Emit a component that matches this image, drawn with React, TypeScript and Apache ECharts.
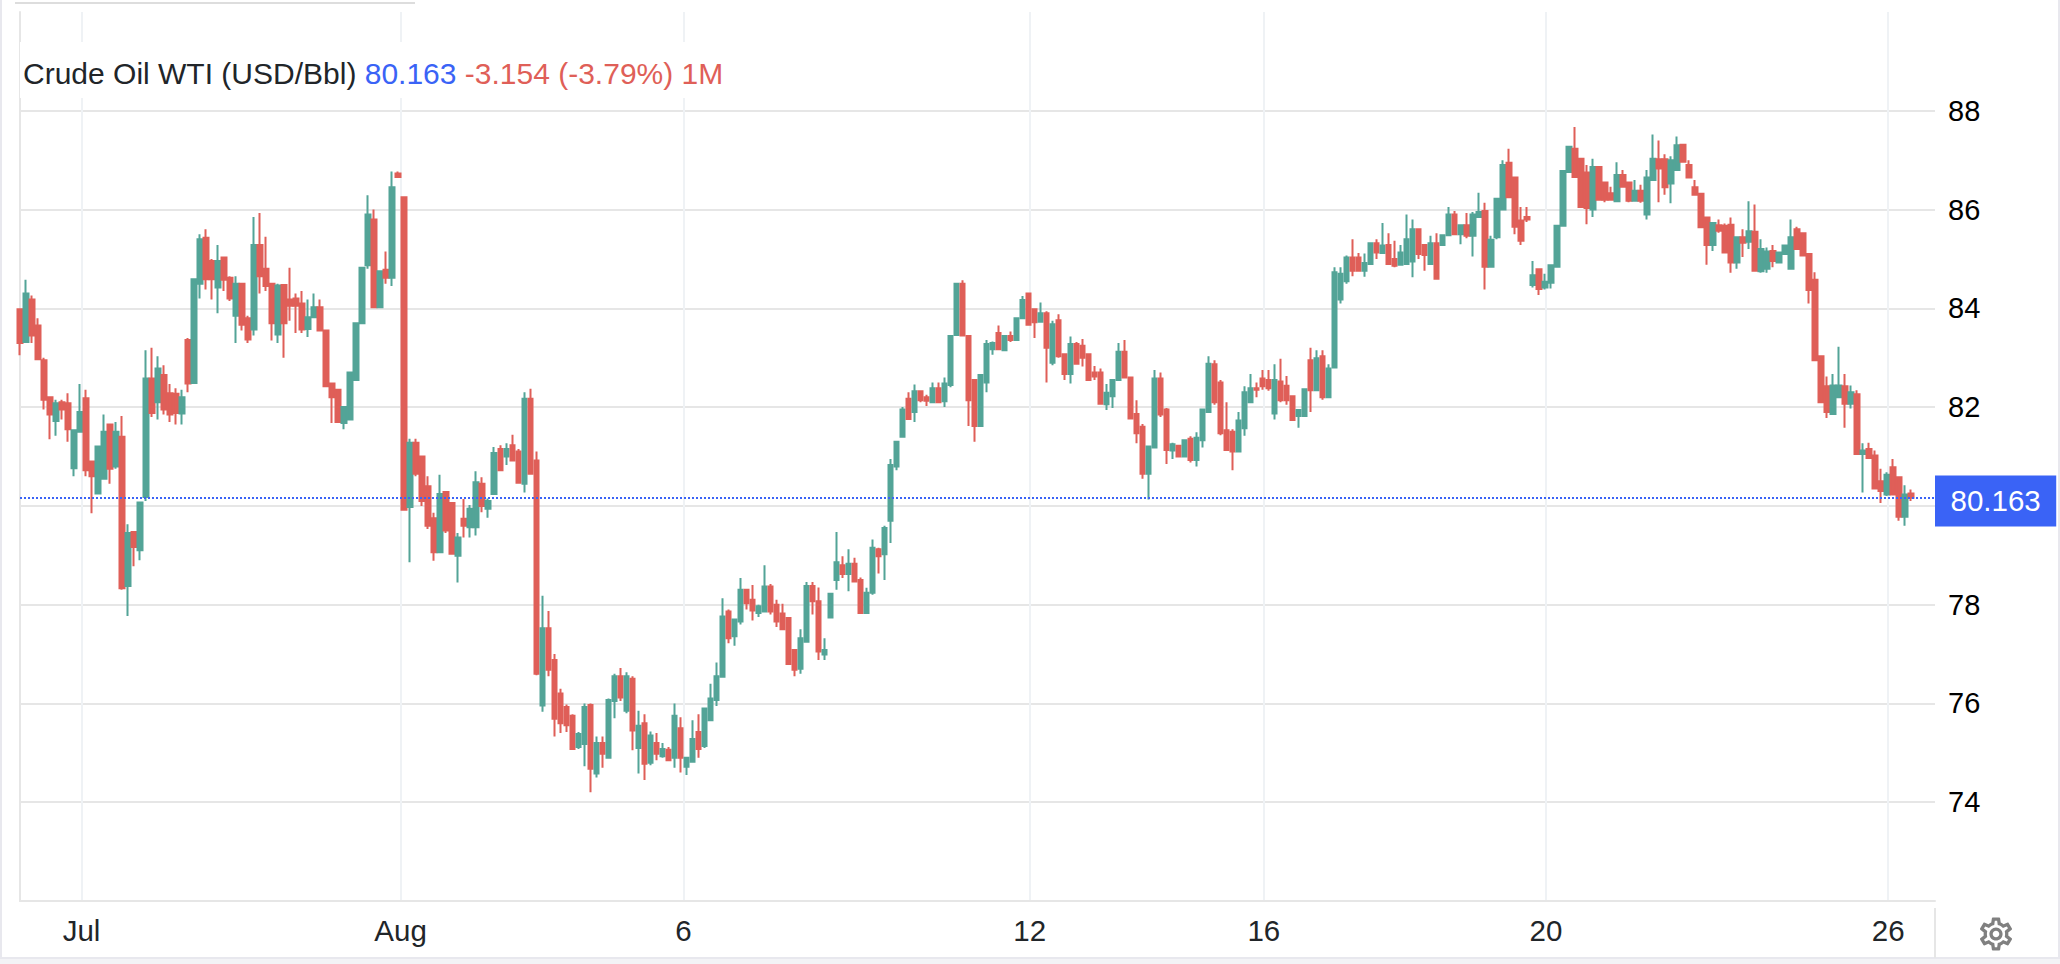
import React, { useEffect, useRef } from "react";
import * as echarts from "echarts";

// [open, close, low, high]
const julyLateBars: number[][] = [
  [83.98,83.3,83.05,84.0],[83.32,84.3,83.3,84.58],[84.18,83.45,83.3,84.26],[83.65,82.97,82.95,83.8],[82.95,82.15,81.95,83.0],
  [82.2,81.85,81.35,82.2],[81.72,82.08,81.42,82.15],[82.1,81.95,81.75,82.15],[82.08,81.55,81.3,82.28],[80.76,81.53,80.6,81.55],
  [81.5,81.9,81.5,82.47],[82.18,80.72,80.6,82.35],[80.9,80.6,79.85,80.9],[80.25,81.2,80.25,81.2],[80.55,81.5,80.55,81.85],
  [81.65,80.75,80.45,81.65],[80.8,81.5,80.75,81.7],[81.4,78.33,78.3,81.82],[78.38,79.45,77.77,79.63],[79.47,79.17,78.78,79.47],
  [79.1,80.07,78.9,80.07],[80.18,82.58,80.1,83.15],[82.58,81.88,81.8,83.2],[82.1,82.78,81.75,83.03],[82.65,81.95,81.85,82.85],
  [82.28,81.85,81.7,82.47],[82.27,81.88,81.65,82.38],[81.87,82.2,81.65,82.35],[83.36,82.48,82.3,83.4],[82.49,84.59,82.49,84.59],
  [84.5,85.4,84.2,85.5],[85.43,84.59,84.38,85.6],[84.96,84.59,84.18,85.0],[84.42,84.96,83.9,85.28],[85.03,84.58,84.35,85.05],
  [84.62,84.2,84.15,84.65],[83.85,84.5,83.3,84.65],[84.5,83.67,83.55,84.5],[83.8,83.37,83.3,83.85],[83.57,85.28,83.45,85.85],
  [85.28,84.65,84.3,85.93],[84.8,84.45,84.35,85.45],[84.5,83.7,83.35,84.5],[83.47,84.46,83.3,84.5],[84.47,83.7,83.0,84.47],
  [84.18,84.05,83.75,84.82],[84.2,84.05,83.5,84.3],[84.1,83.57,83.5,84.35],[83.58,83.82,83.42,84.18],[83.82,84.02,83.8,84.3],
  [84.02,83.55,83.55,84.18],[83.55,82.42,82.4,83.55],[82.48,82.2,81.68,82.5],[82.35,81.7,81.7,82.35],[81.68,82.0,81.55,82.0],
  [81.75,82.7,81.75,82.7],[82.55,83.7,82.55,83.72],[83.7,84.82,83.7,84.82],[84.87,85.9,84.8,86.29],[85.8,84.02,84.02,86.0],
  [84.02,84.75,84.02,84.75],[84.78,84.62,84.5,85.15],[84.62,86.45,84.45,86.77],[86.73,86.66,86.66,86.77],[86.25,79.92,79.92,86.25],
];
const augustDipBars: number[][] = [
  [79.98,81.28,78.86,81.36],[81.28,80.65,80.6,81.36],[81.0,80.1,80.0,81.0],[80.4,79.6,79.53,80.6],[79.75,79.06,78.89,79.86],
  [79.06,80.24,79.06,80.63],[80.28,79.5,79.45,80.3],[80.06,79.03,79.03,80.06],[78.99,79.36,78.45,79.45],[79.74,79.6,79.36,80.14],
  [79.57,79.94,79.36,80.02],[79.57,80.48,79.4,80.7],[80.45,80.0,79.87,80.58],[79.94,80.1,79.76,80.15],[80.24,81.07,80.24,81.19],
  [81.15,80.72,80.71,81.23],[81.0,81.15,80.83,81.27],[81.23,80.92,80.9,81.44],[81.1,80.47,80.47,81.15],[80.45,82.17,80.27,82.3],
  [82.17,80.65,80.65,82.37],[80.92,76.6,76.57,81.1],[75.96,77.52,75.83,78.18],[77.52,76.68,76.55,77.87],[76.88,75.69,75.33,77.0],
  [76.2,75.6,75.4,76.3],[75.93,75.56,75.42,75.98],[75.75,75.08,75.08,75.78],[75.12,75.38,75.08,75.42],[75.18,75.93,74.73,76.0],
  [75.97,74.68,74.2,76.0],[74.58,75.2,74.5,75.33],[75.2,74.98,74.7,75.33],[74.9,76.07,74.88,76.1],[76.05,76.55,75.7,76.6],
  [76.55,76.12,76.05,76.72],[75.85,76.55,75.8,76.63],[76.5,75.45,75.05,76.55],[75.1,75.55,74.58,75.85],[75.6,74.78,74.45,75.78],
  [74.8,75.35,74.75,75.43],[75.2,74.98,74.85,75.4],[74.93,75.08,74.9,75.2],[75.06,74.85,74.85,75.12],[74.9,75.75,74.7,76.0],
  [75.5,74.9,74.6,75.72],[74.72,74.9,74.55,74.92],[74.82,75.28,74.8,75.66],[75.42,75.08,74.9,75.78],[75.14,75.9,75.1,75.9],
  [75.66,76.1,75.66,76.4],[76.07,76.55,75.95,76.83],[76.54,77.76,76.54,78.13],[77.86,77.32,77.22,77.9],[77.36,77.7,77.17,77.7],
];
const augustRecoveryBars: number[][] = [
  [77.66,78.3,77.6,78.54],[78.3,78.03,77.9,78.3],[78.1,77.88,77.68,78.4],[77.83,77.97,77.75,78.0],[77.86,78.37,77.86,78.8],
  [78.37,77.86,77.8,78.42],[78.0,77.66,77.55,78.1],[77.82,77.5,77.5,78.02],[77.73,76.8,76.8,77.73],[77.08,76.68,76.55,77.1],
  [76.7,77.32,76.6,77.5],[77.25,78.38,77.25,78.46],[78.38,78.07,77.8,78.46],[78.07,77.05,76.88,78.35],[76.99,77.08,76.88,77.32],
  [77.74,78.22,77.74,78.22],[78.5,78.86,78.3,79.47],[78.8,78.62,78.54,78.98],[78.62,78.83,78.27,79.12],[78.83,78.47,78.45,78.95],
  [78.5,77.83,77.83,78.55],[77.83,78.24,77.83,78.34],[78.24,79.15,78.2,79.32],[79.12,78.98,78.63,79.15],[79.02,79.55,78.5,79.6],
  [79.7,80.83,79.25,80.95],[80.8,81.3,80.72,81.3],[81.4,81.95,81.4,82.0],[82.17,81.76,81.76,82.3],[81.9,82.32,81.7,82.46],
  [82.32,82.14,82.1,82.32],[82.2,82.13,82.02,82.25],[82.1,82.38,82.1,82.5],[82.38,82.1,82.08,82.5],[82.12,82.48,82.0,82.6],
  [82.45,83.44,82.4,83.44],[83.46,84.5,83.45,84.5],[84.5,83.45,83.45,84.57],[83.44,82.14,81.62,83.44],[82.55,81.62,81.3,82.55],
  [81.62,82.65,81.62,82.65],[82.5,83.28,82.3,83.36],[83.17,83.3,83.06,83.33],[83.5,83.17,83.17,83.65],[83.15,83.44,83.13,83.44],
  [83.44,83.36,83.32,83.53],[83.36,83.8,83.36,83.8],[83.8,84.17,83.8,84.25],[84.3,83.67,83.67,84.32],[83.98,83.72,83.4,84.0],
];
const midAugustBars: number[][] = [
  [83.73,83.9,83.72,84.12],[83.9,83.2,82.5,83.94],[82.9,83.68,82.85,83.75],[83.76,83.03,83.0,83.88],[83.07,82.67,82.55,83.07],
  [82.67,83.28,82.48,83.43],[83.28,82.88,82.88,83.32],[83.24,83.0,82.82,83.38],[83.07,82.55,82.55,83.07],[82.7,82.62,82.55,82.83],
  [82.7,82.07,82.07,82.78],[82.06,82.29,81.94,82.47],[82.22,82.55,81.98,82.55],[82.55,83.12,82.55,83.3],[83.12,82.6,82.6,83.36],
  [82.6,81.77,81.75,82.6],[81.86,81.47,81.27,82.14],[81.6,80.65,80.55,81.66],[80.65,81.2,80.13,81.2],[81.18,82.58,81.18,82.75],
  [82.58,81.85,81.8,82.7],[81.95,81.13,80.85,81.98],[81.12,81.25,80.95,81.28],[81.22,81.0,80.98,81.22],[81.0,81.33,81.0,81.33],
  [81.36,80.93,80.88,81.41],[80.93,81.38,80.8,81.49],[81.33,81.95,81.18,81.95],[81.9,82.88,81.9,83.03],[82.87,82.1,82.05,82.95],
  [82.5,81.47,81.43,82.55],[81.53,81.13,81.13,82.1],[81.5,81.1,80.72,81.55],[81.1,81.73,81.1,81.9],[81.57,82.3,81.42,82.42],
  [82.1,82.38,82.1,82.67],[82.38,82.35,82.2,82.5],[82.58,82.42,82.35,82.75],[82.55,82.38,82.33,82.75],[81.87,82.55,81.75,82.87],
  [82.52,82.14,82.1,82.98],[82.43,82.14,82.05,82.63],[82.22,81.74,81.74,82.22],[81.82,81.94,81.58,81.94],[81.82,82.36,81.82,82.36],
  [82.95,82.34,81.9,83.2],[82.34,82.99,82.34,83.15],[83.03,82.2,82.15,83.15],[82.2,82.78,82.2,82.87],[82.8,84.73,82.8,84.83],
];
const plateauBars: number[][] = [
  [84.18,84.7,84.1,84.83],[84.55,85.03,84.5,85.07],[85.03,84.76,84.65,85.4],[85.03,84.76,84.76,85.12],[84.76,84.92,84.64,85.11],
  [84.9,85.32,84.9,85.32],[85.32,85.13,85.0,85.4],[85.12,85.27,85.1,85.73],[85.28,84.9,84.88,85.52],[85.0,84.86,84.83,85.37],
  [84.88,85.13,84.88,85.28],[84.9,85.4,84.88,85.9],[84.95,85.6,84.63,85.8],[85.6,85.1,85.0,85.6],[85.28,85.08,84.76,85.3],
  [84.9,85.32,84.9,85.47],[85.32,84.6,84.6,85.52],[85.28,85.48,85.28,85.5],[85.48,85.9,85.48,86.05],[85.9,85.5,85.5,85.97],
  [85.5,85.68,85.3,85.7],[85.68,85.47,85.42,85.93],[85.47,85.9,85.05,85.95],[85.85,85.95,85.85,86.34],[85.97,84.84,84.38,86.14],
  [84.84,85.39,84.84,85.47],[85.44,86.22,85.4,86.22],[86.0,86.9,86.0,87.0],[86.95,86.25,86.25,87.23],[86.65,85.65,85.5,86.65],
  [85.78,85.37,85.28,86.05],[85.85,85.8,85.75,86.05],[84.47,84.67,84.42,84.96],[84.79,84.39,84.27,84.79],[84.42,84.54,84.38,84.7],
  [84.52,84.87,84.4,84.87],[84.84,85.67,84.84,85.68],[85.67,86.78,85.67,86.78],[86.76,87.27,86.76,87.27],[87.23,86.66,86.66,87.67],
  [87.03,86.05,86.05,87.05],[86.75,86.03,85.7,86.9],[86.0,86.86,85.85,87.03],[86.86,86.2,86.2,86.86],[86.55,86.2,86.15,86.55],
  [86.33,86.2,86.18,86.46],[86.17,86.7,86.17,86.96],[86.7,86.46,86.46,86.8],[86.55,86.18,86.15,86.55],[86.18,86.38,86.18,86.6],
  [86.38,86.18,86.14,86.5],[85.9,86.65,85.8,86.8],
];
const finalSlideBars: number[][] = [
  [86.6,87.03,86.6,87.52],[87.02,86.83,86.15,87.4],[87.02,86.45,86.3,87.12],[86.53,87.0,86.13,87.08],[86.8,87.3,86.8,87.48],
  [87.31,86.97,86.97,87.31],[86.9,86.65,86.65,87.0],[86.45,86.3,86.3,86.6],[86.32,85.64,85.64,86.34],[85.84,85.28,84.88,85.85],
  [85.28,85.73,85.16,85.75],[85.68,85.57,85.53,85.8],[85.67,85.13,85.13,85.72],[85.69,84.93,84.72,85.84],[84.93,85.44,84.8,85.44],
  [85.44,85.33,85.04,85.6],[85.35,85.56,85.2,86.17],[85.55,84.76,84.76,86.1],[84.75,85.2,84.72,85.4],[84.8,85.15,84.72,85.23],
  [85.16,84.96,84.83,85.28],[84.93,85.13,84.93,85.15],[85.1,85.27,85.1,85.28],[84.8,85.44,84.8,85.8],[85.6,85.2,85.2,85.65],
  [85.52,85.07,85.07,85.54],[85.1,84.37,84.1,85.12],[84.58,82.95,82.95,84.73],[83.03,82.1,82.1,83.03],[82.42,81.9,81.78,82.62],
  [81.86,82.44,81.86,82.67],[82.2,82.44,82.2,83.22],[82.42,82.07,81.58,82.67],[82.07,82.3,81.97,82.44],[82.26,81.05,81.05,82.34],
  [81.05,81.12,80.27,81.27],[81.15,80.97,80.95,81.28],[81.02,80.35,80.35,81.12],[80.5,80.3,80.06,80.75],[80.23,80.63,80.2,80.68],
  [80.78,80.23,80.23,80.95],[80.58,79.78,79.7,80.6],[79.78,80.23,79.6,80.42],[80.25,80.163,80.1,80.33],
];
const trailingEmptySlots = 4;

const dayTickLabels = ["Jul", "Aug", "6", "12", "16", "20", "26"];
const dayTickBars = [10.25, 63.4, 110.5, 168.2, 207.2, 254.2, 311.2];
const priceTicks = [72, 74, 76, 78, 80, 82, 84, 86, 88];
const priceLabels = [74, 76, 78, 82, 84, 86, 88];

const instrument = "Crude Oil WTI (USD/Bbl)";
const lastPrice = 80.163;
const lastPriceText = "80.163";
const changeText = "-3.154 (-3.79%) 1M";

const GREEN = "#53a497";
const RED = "#df5f58";
const BLUE = "#3a63f6";
const FRAME = "#e8e8ee";
const FONT = "'Liberation Sans', Arial, sans-serif";

const gearPath =
  "M19.43 12.98c.04-.32.07-.64.07-.98 0-.34-.03-.66-.07-.98l2.11-1.65c.19-.15.24-.42.12-.64l-2-3.46c-.09-.16-.26-.25-.44-.25-.06 0-.12.01-.17.03l-2.49 1c-.52-.4-1.08-.73-1.69-.98l-.38-2.65C14.46 2.18 14.25 2 14 2h-4c-.25 0-.46.18-.49.42l-.38 2.65c-.61.25-1.17.59-1.69.98l-2.49-1c-.06-.02-.12-.03-.18-.03-.17 0-.34.09-.43.25l-2 3.46c-.13.22-.07.49.12.64l2.11 1.65c-.04.32-.07.65-.07.98 0 .33.03.66.07.98l-2.11 1.65c-.19.15-.24.42-.12.64l2 3.46c.09.16.26.25.44.25.06 0 .12-.01.17-.03l2.49-1c.52.4 1.08.73 1.69.98l.38 2.65c.03.24.24.42.49.42h4c.25 0 .46-.18.49-.42l.38-2.65c.61-.25 1.17-.59 1.69-.98l2.49 1c.06.02.12.03.18.03.17 0 .34-.09.43-.25l2-3.46c.12-.22.07-.49-.12-.64l-2.11-1.65zm-1.98-1.71c.04.31.05.52.05.73 0 .21-.02.43-.05.73l-.14 1.13.89.7 1.08.84-.7 1.21-1.27-.51-1.04-.42-.9.68c-.43.32-.84.56-1.25.73l-1.06.43-.16 1.13-.2 1.35h-1.4l-.19-1.35-.16-1.13-1.06-.43c-.43-.18-.83-.41-1.23-.71l-.91-.7-1.06.43-1.27.51-.7-1.21 1.08-.84.89-.7-.14-1.13c-.03-.31-.05-.54-.05-.74s.02-.43.05-.73l.14-1.13-.89-.7-1.08-.84.7-1.21 1.27.51 1.04.42.9-.68c.43-.32.84-.56 1.25-.73l1.06-.43.16-1.13.2-1.35h1.39l.19 1.35.16 1.13 1.06.43c.43.18.83.41 1.23.71l.91.7 1.06-.43 1.27-.51.7 1.21-1.07.85-.89.7.14 1.13zM12 8c-2.21 0-4 1.79-4 4s1.79 4 4 4 4-1.79 4-4-1.79-4-4-4zm0 6c-1.1 0-2-.9-2-2s.9-2 2-2 2 .9 2 2-.9 2-2 2z";

echarts.graphic.registerShape("gearIcon", echarts.graphic.extendPath(gearPath as any, {}) as any);

export default function App() {
  const ref = useRef<HTMLDivElement>(null);

  useEffect(() => {
    document.body.style.margin = "0";
    const chart = echarts.init(ref.current!, undefined, { renderer: "svg" });
    const bars = [
      ...julyLateBars,
      ...augustDipBars,
      ...augustRecoveryBars,
      ...midAugustBars,
      ...plateauBars,
      ...finalSlideBars,
    ];
    const slots = bars.length + trailingEmptySlots;
    const categories = Array.from({ length: slots }, (_, i) => String(i));
    const frameLine = (x1: number, y1: number, x2: number, y2: number, stroke = FRAME) => ({
      type: "line",
      shape: { x1, y1, x2, y2 },
      style: { stroke, lineWidth: 2 },
      z: 1,
      silent: true,
    });

    chart.setOption({
      animation: false,
      backgroundColor: "#ffffff",
      textStyle: { fontFamily: FONT },
      title: {
        left: 18,
        top: 53,
        z: 8,
        text: `{a|${instrument}} {b|${lastPriceText}} {c|${changeText}}`,
        textStyle: {
          fontFamily: FONT,
          fontWeight: "normal",
          fontSize: 30,
          rich: {
            a: { fontSize: 30, color: "#212529", fontFamily: FONT, fontWeight: "normal" },
            b: { fontSize: 30, color: BLUE, fontFamily: FONT, fontWeight: "normal" },
            c: { fontSize: 30, color: RED, fontFamily: FONT, fontWeight: "normal" },
          },
        },
      },
      grid: { left: 20, top: 12, width: 1915, height: 889 },
      xAxis: [
        {
          type: "category",
          data: categories,
          boundaryGap: false,
          axisLine: { show: false },
          axisTick: { show: false },
          axisLabel: { show: false },
          splitLine: { show: false },
        },
        {
          type: "value",
          position: "bottom",
          min: 0,
          max: slots - 1,
          axisLine: { show: true, onZero: false, lineStyle: { color: "#e6e6e6", width: 2 } },
          axisTick: { show: false, customValues: dayTickBars },
          axisLabel: {
            show: true,
            customValues: dayTickBars,
            margin: 14,
            fontSize: 29.5,
            color: "#212529",
            fontFamily: FONT,
            formatter: (v: number) => dayTickLabels[dayTickBars.indexOf(v)] ?? "",
          },
          splitLine: { show: true, lineStyle: { color: "#eff2f5", width: 2 } },
        },
      ],
      yAxis: {
        type: "value",
        position: "right",
        min: 72,
        max: 90,
        interval: 2,
        axisLine: { show: true, lineStyle: { color: "#e6e6e6", width: 2 } },
        axisTick: { show: true, length: 9, customValues: priceTicks, lineStyle: { color: "#e6e6e6", width: 2 } },
        axisLabel: {
          customValues: priceLabels,
          margin: 13,
          fontSize: 29,
          color: "#000000",
          fontFamily: FONT,
          padding: [0, 0, 3, 0],
        },
        splitLine: { show: true, lineStyle: { color: "#e6e6e6", width: 2 } },
      },
      series: [
        {
          type: "candlestick",
          xAxisIndex: 0,
          data: bars,
          barWidth: 5,
          itemStyle: {
            color: GREEN,
            color0: RED,
            borderColor: GREEN,
            borderColor0: RED,
            borderWidth: 2,
          },
          markLine: {
            silent: true,
            symbol: "none",
            animation: false,
            lineStyle: { color: BLUE, type: [2, 2], width: 2 },
            data: [{ yAxis: lastPrice }],
            label: {
              show: true,
              position: "end",
              distance: 0,
              offset: [0, 3],
              formatter: lastPriceText,
              color: "#ffffff",
              fontSize: 29.5,
              fontFamily: FONT,
              backgroundColor: BLUE,
              padding: [11, 15.5, 10, 15.5],
            },
          },
        },
      ],
      graphic: [
        { type: "rect", shape: { x: 20, y: 42, width: 705, height: 56 }, style: { fill: "#ffffff" }, z: 1, silent: true },
        frameLine(15, 3, 415, 3, "#dddddd"),
        frameLine(1, 0, 1, 964),
        frameLine(2059, 0, 2059, 964),
        { type: "rect", shape: { x: 0, y: 958, width: 2060, height: 6 }, style: { fill: "#f3f3f6" }, z: 1, silent: true },
        frameLine(0, 958, 2060, 958),
        frameLine(1935, 908, 1935, 958, "#e6e6e6"),
        {
          type: "gearIcon",
          x: 1976.2,
          y: 914.2,
          scaleX: 1.65,
          scaleY: 1.65,
          style: { fill: "#808080" },
          z: 5,
          silent: true,
        },
      ],
    });
    return () => chart.dispose();
  }, []);

  return (
    <div
      ref={ref}
      style={{ position: "absolute", left: 0, top: 0, width: 2060, height: 964, overflow: "hidden" }}
    />
  );
}
